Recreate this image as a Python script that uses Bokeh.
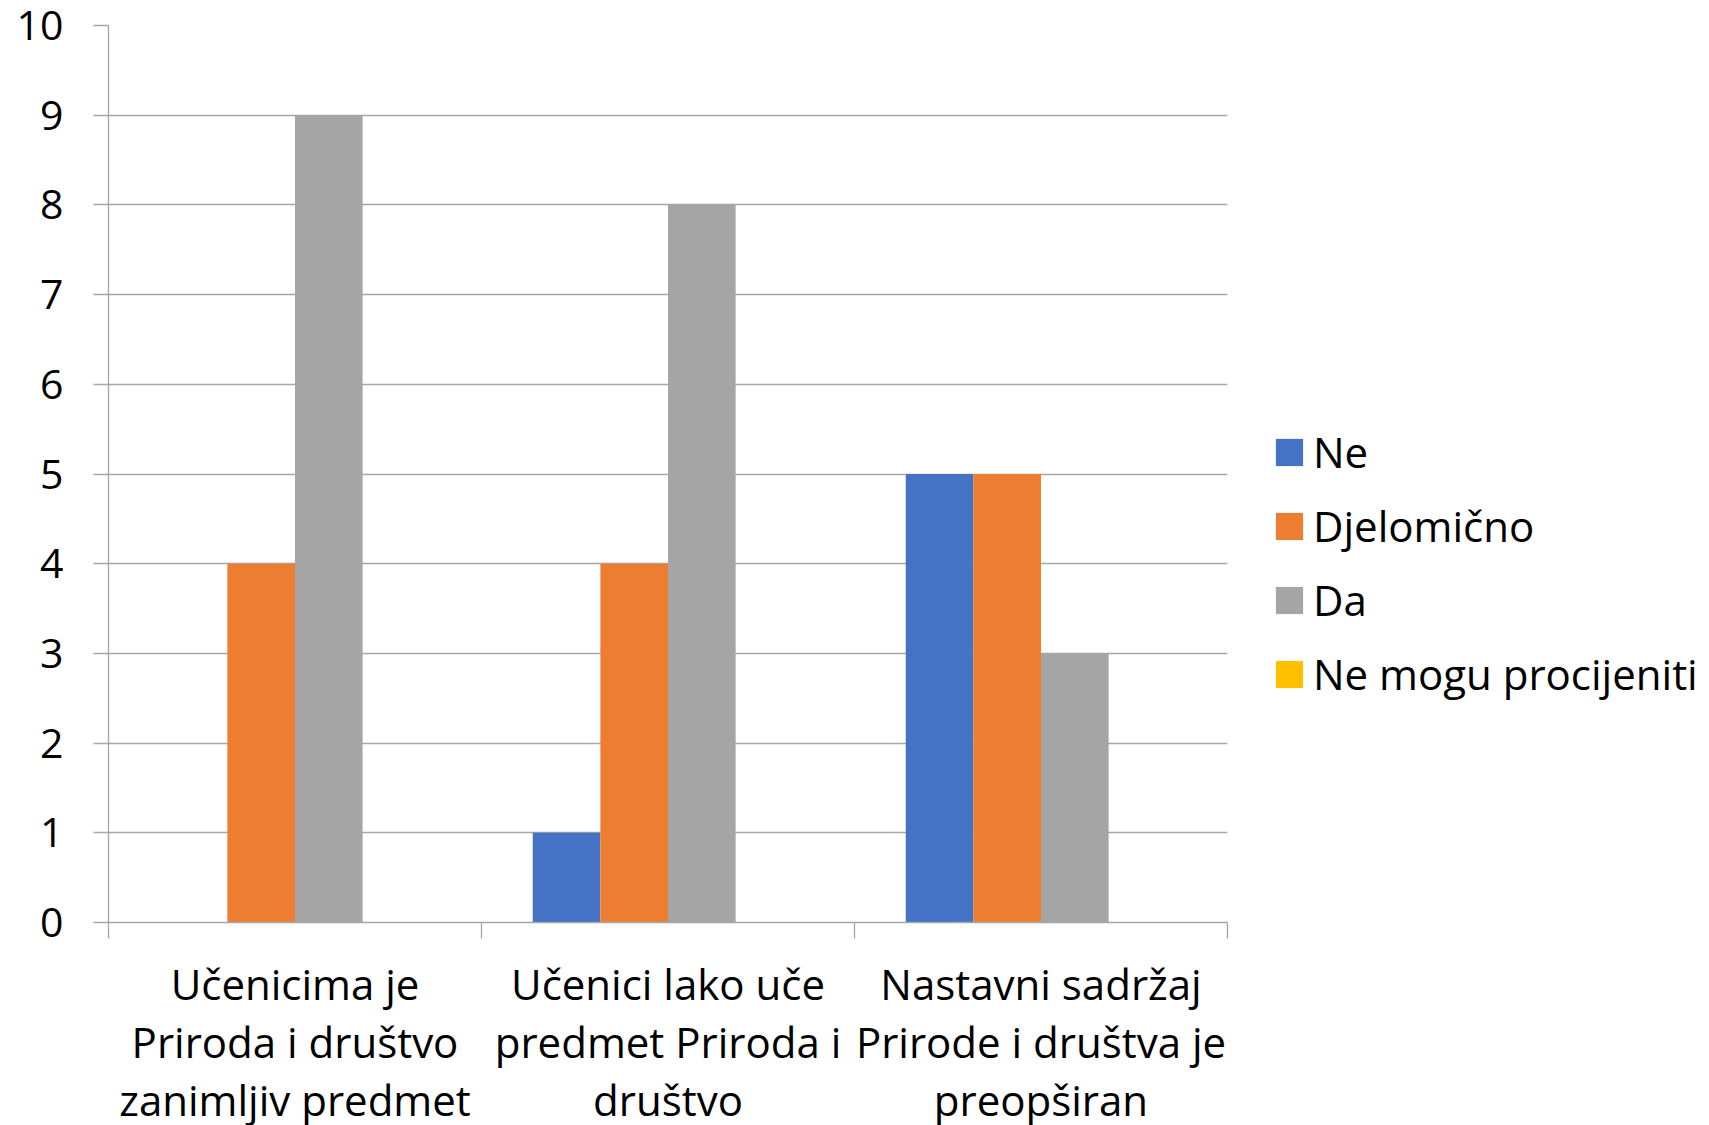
from bokeh.plotting import figure
from bokeh.models import (ColumnDataSource, Range1d, FixedTicker, Legend, LegendItem)
from bokeh.transform import dodge
from bokeh.embed import file_html
from bokeh.resources import INLINE

categories = [
    "Učenicima je\nPriroda i društvo\nzanimljiv predmet",
    "Učenici lako uče\npredmet Priroda i\ndruštvo",
    "Nastavni sadržaj\nPrirode i društva je\npreopširan",
]
series_names = ["Ne", "Djelomično", "Da", "Ne mogu procijeniti"]
ne = [0, 1, 5]
djelomicno = [4, 4, 5]
da = [9, 8, 3]
ne_mogu = [0, 0, 0]
colors = ["#4472C4", "#ED7D31", "#A5A5A5", "#FFC000"]
y_ticks = list(range(0, 11))

FONT = "Open Sans"
GRAY = "#A6A6A6"

n = len(categories)
src = ColumnDataSource(dict(
    x=[i + 0.5 for i in range(n)],
    ne=ne, djelomicno=djelomicno, da=da, ne_mogu=ne_mogu,
))

p = figure(
    frame_width=1119, frame_height=897,
    x_range=Range1d(0, n), y_range=Range1d(0, 10),
    output_backend="svg", toolbar_location=None,
    min_border_left=108, min_border_top=25, min_border_bottom=203,
    min_border_right=0,
)
p.outline_line_color = None
p.background_fill_color = "white"
p.border_fill_color = "white"

bar_w = 0.1813
cols = ["ne", "djelomicno", "da", "ne_mogu"]
items = []
for k, (c, name, color) in enumerate(zip(cols, series_names, colors)):
    r = p.vbar(x=dodge("x", (k - 1.5) * bar_w, range=p.x_range), top=c, width=bar_w,
               bottom=0, source=src, fill_color=color, line_color=None)
    items.append(LegendItem(label=name, renderers=[r]))

# axes
xa = p.xaxis[0]
xa.ticker = FixedTicker(ticks=[i + 0.5 for i in range(n)], minor_ticks=list(range(n + 1)))
xa.major_label_overrides = {i + 0.5: categories[i] for i in range(n)}
xa.major_tick_line_color = None
xa.major_tick_out = 0
xa.major_tick_in = 0
xa.minor_tick_line_color = GRAY
xa.minor_tick_out = 16
xa.minor_tick_in = 0
xa.minor_tick_line_width = 1.3
xa.axis_line_color = GRAY
xa.axis_line_width = 1.3
xa.major_label_text_font = FONT
xa.major_label_text_font_size = "42px"
xa.major_label_text_color = "black"
xa.major_label_text_align = "center"
xa.major_label_text_line_height = 1.02
xa.major_label_standoff = 16
xa.major_label_orientation = "horizontal"

ya = p.yaxis[0]
ya.ticker = FixedTicker(ticks=y_ticks)
ya.axis_line_color = GRAY
ya.axis_line_width = 1.3
ya.major_tick_line_color = GRAY
ya.major_tick_line_width = 1.3
ya.major_tick_out = 15
ya.major_tick_in = 0
ya.minor_tick_line_color = None
ya.major_label_text_font = FONT
ya.major_label_text_font_size = "41px"
ya.major_label_text_color = "black"
ya.major_label_text_line_height = 0.85
ya.major_label_standoff = 30

p.xgrid.grid_line_color = None
p.ygrid.ticker = FixedTicker(ticks=y_ticks)
p.ygrid.grid_line_color = GRAY
p.ygrid.grid_line_width = 1.3

legend = Legend(items=items, location=(45, 220))
legend.border_line_color = None
legend.background_fill_alpha = 0
legend.padding = 0
legend.margin = 0
legend.glyph_width = 34
legend.glyph_height = 34
legend.label_text_font = FONT
legend.label_text_font_size = "42px"
legend.label_text_color = "black"
legend.label_standoff = 7
legend.spacing = 17
p.add_layout(legend, "right")

open("out.html", "w").write(file_html(p, INLINE))
